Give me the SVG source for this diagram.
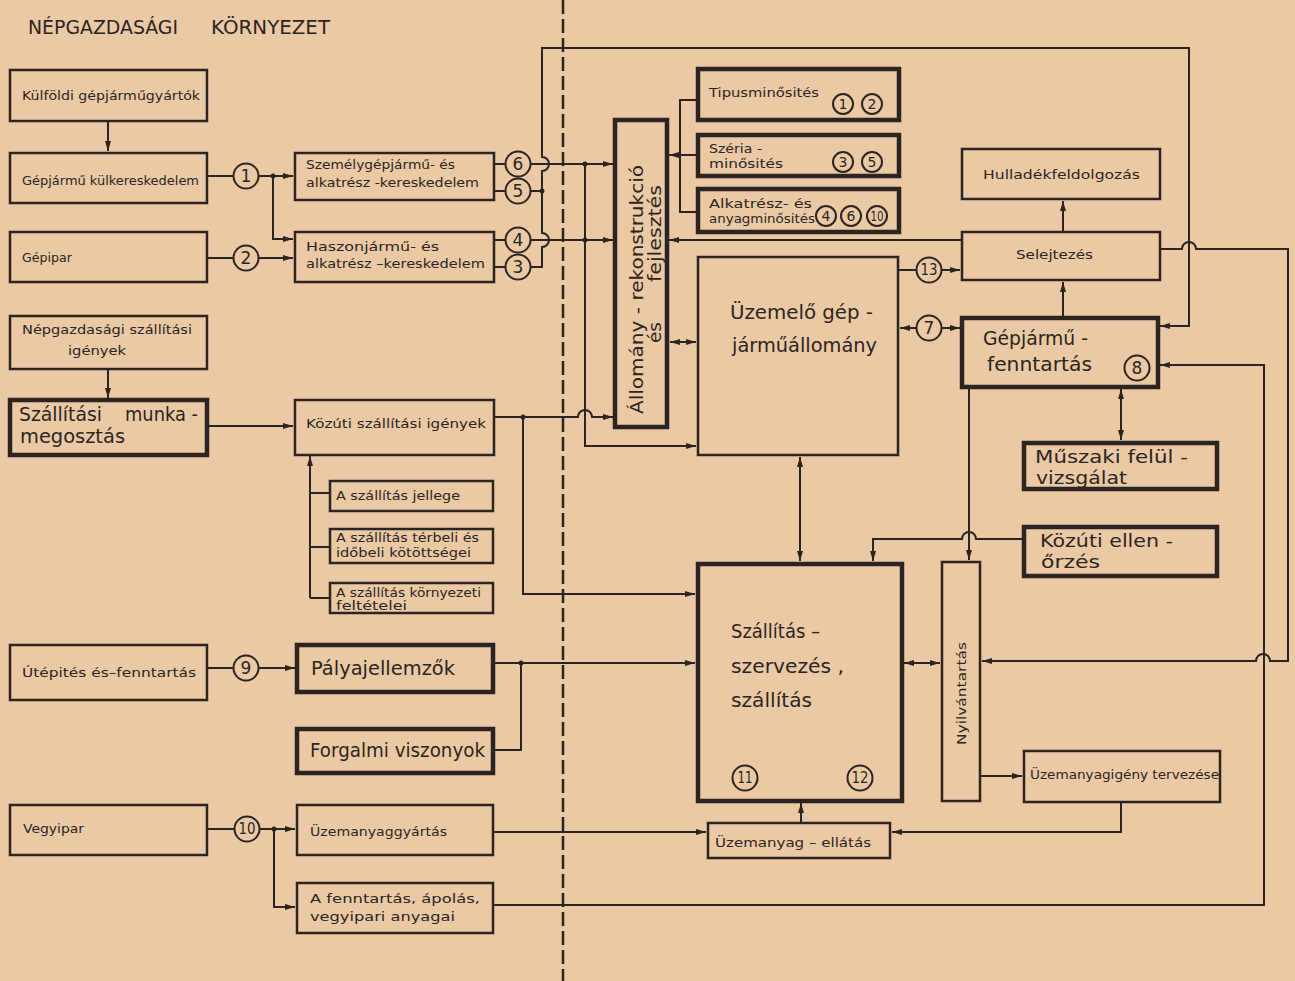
<svg xmlns="http://www.w3.org/2000/svg" width="1295" height="981" viewBox="0 0 1295 981">
<style>
  text{font-family:"DejaVu Sans","Liberation Sans",sans-serif;fill:#2b2521}
  .s{font-size:13px}
  .m{font-size:15px}
  .b{font-size:19px}
  .b2{font-size:17px}
  .t{font-size:20px}
  .n{font-size:17px;text-anchor:middle}
  .nn{font-size:15px;text-anchor:middle}
  .ns{font-size:14px;text-anchor:middle}
  .box{fill:none;stroke:#2b2521;stroke-width:2.5}
  .thick{fill:none;stroke:#2b2521;stroke-width:4.5}
  .c{fill:none;stroke:#2b2521;stroke-width:2}
  .circ{fill:#ebc9a5;stroke:#2b2521;stroke-width:2}
  .dot{fill:#2b2521}
  .dash{fill:none;stroke:#2b2521;stroke-width:2.5;stroke-dasharray:14 5}
</style>
<defs>
  <marker id="ah" viewBox="0 0 10 6" refX="10" refY="3" markerWidth="10" markerHeight="6" markerUnits="userSpaceOnUse" orient="auto-start-reverse">
    <path d="M0,0 L10,3 L0,6 Z" fill="#2b2521"/>
  </marker>
</defs>
<rect x="0" y="0" width="1295" height="981" fill="#ebc9a5"/>

<g id="title">
  <text x="28" y="34" style="font-size:20px" textLength="150" lengthAdjust="spacingAndGlyphs">NÉPGAZDASÁGI</text>
  <text x="211" y="34" style="font-size:20px" textLength="119" lengthAdjust="spacingAndGlyphs">KÖRNYEZET</text>
</g>

<line class="dash" x1="563" y1="0" x2="563" y2="981"/>

<!-- connectors -->
<g id="connectors" class="c">
  <path d="M108,121 V151" marker-end="url(#ah)"/>
  <path d="M108,369 V398" marker-end="url(#ah)"/>
  <path d="M207,426 H293" marker-end="url(#ah)"/>
  <path d="M207,176 H233"/>
  <path d="M259,176 H293" marker-end="url(#ah)"/>
  <path d="M273,176 V239 H293" marker-end="url(#ah)"/>
  <path d="M207,258 H233"/>
  <path d="M259,258 H293" marker-end="url(#ah)"/>
  <path d="M207,668 H233"/>
  <path d="M259,668 H295" marker-end="url(#ah)"/>
  <path d="M207,829 H234"/>
  <path d="M260,829 H295" marker-end="url(#ah)"/>
  <path d="M274,829 V907 H295" marker-end="url(#ah)"/>
  <path d="M310,598 V456" marker-end="url(#ah)"/>
  <path d="M310,493 H329 M310,547 H329 M310,598 H329"/>
  <path d="M494,164 H505 M494,191 H505 M494,240 H505 M494,267 H505"/>
  <path d="M531,164 H613" marker-end="url(#ah)"/>
  <path d="M531,240 H613" marker-end="url(#ah)"/>
  <path d="M531,191 H542"/>
  <path d="M531,267 H542 V247 a7,7 0 0 0 0,-14 V171 a7,7 0 0 0 0,-14 V48 H1189 V326 H1160" marker-end="url(#ah)"/>
  <path d="M585,164 V446 H696" marker-end="url(#ah)"/>
  <path d="M495,417 H578 a7,7 0 0 1 14,0 H613" marker-end="url(#ah)"/>
  <path d="M523,417 V594 H695" marker-end="url(#ah)"/>
  <path d="M698,100 H680 V212 H698"/>
  <path d="M698,155 H669" marker-end="url(#ah)"/>
  <path d="M962,240 H669" marker-end="url(#ah)"/>
  <path d="M670,342 H696" marker-start="url(#ah)" marker-end="url(#ah)"/>
  <path d="M898,270 H917"/>
  <path d="M941,270 H960" marker-end="url(#ah)"/>
  <path d="M917,328 H900" marker-end="url(#ah)"/>
  <path d="M941,328 H960" marker-end="url(#ah)"/>
  <path d="M1063,232 V201" marker-end="url(#ah)"/>
  <path d="M1063,317 V282" marker-end="url(#ah)"/>
  <path d="M1121,389 V440" marker-start="url(#ah)" marker-end="url(#ah)"/>
  <path d="M969,389 V560" marker-end="url(#ah)"/>
  <path d="M1160,249 H1182 a7,7 0 0 1 14,0 H1288 V661 H1270 a7,7 0 0 0 -14,0 H982" marker-end="url(#ah)"/>
  <path d="M493,905 H1264 V365 H1160" marker-end="url(#ah)"/>
  <path d="M1023,539 H976 a7,7 0 0 0 -14,0 H873 V561" marker-end="url(#ah)"/>
  <path d="M800,457 V561" marker-start="url(#ah)" marker-end="url(#ah)"/>
  <path d="M493,663 H695" marker-end="url(#ah)"/>
  <path d="M521,663 V750 H493"/>
  <path d="M904,663 H940" marker-start="url(#ah)" marker-end="url(#ah)"/>
  <path d="M980,776 H1022" marker-end="url(#ah)"/>
  <path d="M1121,802 V832 H892" marker-end="url(#ah)"/>
  <path d="M493,832 H706" marker-end="url(#ah)"/>
  <path d="M801,823 V803" marker-end="url(#ah)"/>
</g>
<g id="junctions">
  <circle class="dot" cx="273" cy="176" r="2.5"/>
  <circle class="dot" cx="274" cy="829" r="2.5"/>
  <circle class="dot" cx="542" cy="191" r="2.5"/>
  <circle class="dot" cx="585" cy="164" r="2.5"/>
  <circle class="dot" cx="585" cy="240" r="2.5"/>
  <circle class="dot" cx="523" cy="417" r="2.5"/>
  <circle class="dot" cx="521" cy="663" r="2.5"/>
</g>

<!-- circled numbers -->
<g id="markers">
  <circle class="circ" cx="246" cy="176" r="12.5"/><text class="n" x="246" y="182">1</text>
  <circle class="circ" cx="246" cy="258" r="12.5"/><text class="n" x="246" y="264">2</text>
  <circle class="circ" cx="246" cy="668" r="12.5"/><text class="n" x="246" y="674">9</text>
  <circle class="circ" cx="247" cy="829" r="12.5"/><text class="nn" x="247" y="834" textLength="17" lengthAdjust="spacingAndGlyphs">10</text>
  <circle class="circ" cx="518" cy="164" r="12.5"/><text class="n" x="518" y="170">6</text>
  <circle class="circ" cx="518" cy="191" r="12.5"/><text class="n" x="518" y="197">5</text>
  <circle class="circ" cx="518" cy="240" r="12.5"/><text class="n" x="518" y="246">4</text>
  <circle class="circ" cx="518" cy="267" r="12.5"/><text class="n" x="518" y="273">3</text>
  <circle class="circ" cx="929" cy="270" r="12.5"/><text class="nn" x="929" y="275" textLength="17" lengthAdjust="spacingAndGlyphs">13</text>
  <circle class="circ" cx="929" cy="328" r="12.5"/><text class="n" x="929" y="334">7</text>
  <circle class="circ" cx="1137" cy="368" r="12.5"/><text class="n" x="1137" y="374">8</text>
  <circle class="circ" cx="745" cy="778" r="12.5"/><text class="nn" x="745" y="783" textLength="15" lengthAdjust="spacingAndGlyphs">11</text>
  <circle class="circ" cx="860" cy="778" r="12.5"/><text class="nn" x="860" y="783" textLength="17" lengthAdjust="spacingAndGlyphs">12</text>
</g>

<!-- left column -->
<g id="kulfoldi"><rect class="box" x="10" y="70" width="197" height="51"/><text class="s" x="22" y="100" textLength="178" lengthAdjust="spacingAndGlyphs">Külföldi gépjárműgyártók</text></g>
<g id="kulker"><rect class="box" x="10" y="153" width="197" height="50"/><text class="s" x="22" y="185" textLength="177" lengthAdjust="spacingAndGlyphs">Gépjármű külkereskedelem</text></g>
<g id="gepipar"><rect class="box" x="10" y="232" width="197" height="50"/><text class="s" x="22" y="262" textLength="50" lengthAdjust="spacingAndGlyphs">Gépipar</text></g>
<g id="nepgazd"><rect class="box" x="10" y="316" width="197" height="53"/><text class="s" x="22" y="334" textLength="170" lengthAdjust="spacingAndGlyphs">Népgazdasági szállítási</text><text class="s" x="68" y="355" textLength="58" lengthAdjust="spacingAndGlyphs">igények</text></g>
<g id="munkamegoszt"><rect class="thick" x="10" y="400" width="197" height="55"/><text class="t" x="19" y="421" textLength="83" lengthAdjust="spacingAndGlyphs">Szállítási</text><text class="t" x="125" y="421" textLength="73" lengthAdjust="spacingAndGlyphs">munka -</text><text class="t" x="20" y="443" textLength="105" lengthAdjust="spacingAndGlyphs">megosztás</text></g>
<g id="utepites"><rect class="box" x="10" y="645" width="197" height="55"/><text class="s" x="22" y="677" textLength="174" lengthAdjust="spacingAndGlyphs">Útépités és–fenntartás</text></g>
<g id="vegyipar"><rect class="box" x="10" y="805" width="197" height="50"/><text class="s" x="23" y="833" textLength="61" lengthAdjust="spacingAndGlyphs">Vegyipar</text></g>

<!-- second column -->
<g id="szemely"><rect class="box" x="295" y="153" width="199" height="47"/><text class="s" x="306" y="169" textLength="149" lengthAdjust="spacingAndGlyphs">Személygépjármű- és</text><text class="s" x="306" y="187" textLength="173" lengthAdjust="spacingAndGlyphs">alkatrész -kereskedelem</text></g>
<g id="haszon"><rect class="box" x="295" y="232" width="199" height="50"/><text class="s" x="306" y="251" textLength="133" lengthAdjust="spacingAndGlyphs">Haszonjármű- és</text><text class="s" x="306" y="268" textLength="179" lengthAdjust="spacingAndGlyphs">alkatrész –kereskedelem</text></g>
<g id="kozutiigeny"><rect class="box" x="295" y="400" width="199" height="55"/><text class="s" x="306" y="428" textLength="180" lengthAdjust="spacingAndGlyphs">Közúti szállítási igények</text></g>
<g id="jellege"><rect class="box" x="330" y="481" width="163" height="30"/><text class="s" x="336" y="500" textLength="124" lengthAdjust="spacingAndGlyphs">A szállítás jellege</text></g>
<g id="terbeli"><rect class="box" x="330" y="529" width="163" height="34"/><text class="s" x="336" y="542" textLength="143" lengthAdjust="spacingAndGlyphs">A szállítás térbeli és</text><text class="s" x="336" y="557" textLength="135" lengthAdjust="spacingAndGlyphs">időbeli kötöttségei</text></g>
<g id="kornyezeti"><rect class="box" x="330" y="583" width="163" height="30"/><text class="s" x="336" y="597" textLength="145" lengthAdjust="spacingAndGlyphs">A szállítás környezeti</text><text class="s" x="336" y="610" textLength="71" lengthAdjust="spacingAndGlyphs">feltételei</text></g>
<g id="palya"><rect class="thick" x="297" y="645" width="196" height="47"/><text class="t" x="311" y="675" textLength="144" lengthAdjust="spacingAndGlyphs">Pályajellemzők</text></g>
<g id="forgalmi"><rect class="thick" x="297" y="729" width="196" height="44"/><text class="t" x="310" y="757" textLength="175" lengthAdjust="spacingAndGlyphs">Forgalmi viszonyok</text></g>
<g id="uzemgyart"><rect class="box" x="297" y="805" width="196" height="50"/><text class="s" x="310" y="836" textLength="137" lengthAdjust="spacingAndGlyphs">Üzemanyaggyártás</text></g>
<g id="fenntartasanyag"><rect class="box" x="297" y="883" width="196" height="50"/><text class="s" x="310" y="903" textLength="170" lengthAdjust="spacingAndGlyphs">A fenntartás, ápolás,</text><text class="s" x="310" y="921" textLength="145" lengthAdjust="spacingAndGlyphs">vegyipari anyagai</text></g>

<!-- right part -->
<g id="allomany"><rect class="thick" x="615" y="120" width="52" height="307"/>
  <text transform="translate(643,414) rotate(-90)" style="font-size:17px" textLength="249" lengthAdjust="spacingAndGlyphs">Állomány - rekonstrukció</text>
  <text transform="translate(661,343) rotate(-90)" style="font-size:17px" textLength="21" lengthAdjust="spacingAndGlyphs">és</text>
  <text transform="translate(661,282) rotate(-90)" style="font-size:17px" textLength="97" lengthAdjust="spacingAndGlyphs">fejlesztés</text>
</g>
<g id="tipus"><rect class="thick" x="698" y="69" width="201" height="51"/><text class="s" x="709" y="97" textLength="110" lengthAdjust="spacingAndGlyphs">Tipusminősités</text>
  <circle class="circ" cx="843" cy="104" r="10"/><text class="ns" x="843" y="109">1</text>
  <circle class="circ" cx="872" cy="104" r="10"/><text class="ns" x="872" y="109">2</text></g>
<g id="szeria"><rect class="thick" x="698" y="135" width="201" height="41"/><text class="s" x="709" y="153" textLength="53" lengthAdjust="spacingAndGlyphs">Széria -</text><text class="s" x="709" y="168" textLength="74" lengthAdjust="spacingAndGlyphs">minősités</text>
  <circle class="circ" cx="843" cy="162" r="10"/><text class="ns" x="843" y="167">3</text>
  <circle class="circ" cx="872" cy="162" r="10"/><text class="ns" x="872" y="167">5</text></g>
<g id="alkatresz"><rect class="thick" x="698" y="189" width="201" height="43"/><text class="s" x="709" y="208" textLength="103" lengthAdjust="spacingAndGlyphs">Alkatrész- és</text><text class="s" x="709" y="223" textLength="106" lengthAdjust="spacingAndGlyphs">anyagminősités</text>
  <circle class="circ" cx="826" cy="216" r="10"/><text class="ns" x="826" y="221">4</text>
  <circle class="circ" cx="851" cy="216" r="10"/><text class="ns" x="851" y="221">6</text>
  <circle class="circ" cx="877" cy="216" r="10"/><text class="ns" x="877" y="221" textLength="13" lengthAdjust="spacingAndGlyphs">10</text></g>
<g id="uzemelo"><rect class="box" x="698" y="257" width="200" height="198"/><text class="b" x="730" y="319" textLength="143" lengthAdjust="spacingAndGlyphs">Üzemelő gép -</text><text class="b" x="732" y="352" textLength="145" lengthAdjust="spacingAndGlyphs">járműállomány</text></g>
<g id="hulladek"><rect class="box" x="962" y="149" width="198" height="50"/><text class="s" x="983" y="179" textLength="157" lengthAdjust="spacingAndGlyphs">Hulladékfeldolgozás</text></g>
<g id="selejtezes"><rect class="box" x="962" y="232" width="198" height="48"/><text class="s" x="1016" y="259" textLength="77" lengthAdjust="spacingAndGlyphs">Selejtezés</text></g>
<g id="fenntartas"><rect class="thick" x="962" y="318" width="196" height="69"/><text class="t" x="983" y="345" textLength="105" lengthAdjust="spacingAndGlyphs">Gépjármű -</text><text class="t" x="987" y="371" textLength="105" lengthAdjust="spacingAndGlyphs">fenntartás</text></g>
<g id="muszaki"><rect class="thick" x="1024" y="443" width="193" height="46"/><text class="b2" x="1035" y="463" textLength="153" lengthAdjust="spacingAndGlyphs">Műszaki felül -</text><text class="b2" x="1036" y="484" textLength="91" lengthAdjust="spacingAndGlyphs">vizsgálat</text></g>
<g id="kozutiellen"><rect class="thick" x="1024" y="527" width="193" height="49"/><text class="b2" x="1040" y="547" textLength="133" lengthAdjust="spacingAndGlyphs">Közúti ellen -</text><text class="b2" x="1041" y="568" textLength="59" lengthAdjust="spacingAndGlyphs">őrzés</text></g>
<g id="szallitas"><rect class="thick" x="698" y="564" width="204" height="237"/><text class="t" x="731" y="638" textLength="89" lengthAdjust="spacingAndGlyphs">Szállítás –</text><text class="t" x="731" y="673" textLength="113" lengthAdjust="spacingAndGlyphs">szervezés ,</text><text class="t" x="731" y="707" textLength="81" lengthAdjust="spacingAndGlyphs">szállítás</text></g>
<g id="nyilvantartas"><rect class="box" x="942" y="562" width="38" height="239"/><text class="s" transform="translate(966,745) rotate(-90)" textLength="103" lengthAdjust="spacingAndGlyphs">Nyilvántartás</text></g>
<g id="uzemigeny"><rect class="box" x="1024" y="751" width="196" height="51"/><text class="s" x="1030" y="779" textLength="189" lengthAdjust="spacingAndGlyphs">Üzemanyagigény tervezése</text></g>
<g id="ellatas"><rect class="box" x="708" y="823" width="182" height="35"/><text class="s" x="715" y="847" textLength="156" lengthAdjust="spacingAndGlyphs">Üzemanyag – ellátás</text></g>
</svg>
